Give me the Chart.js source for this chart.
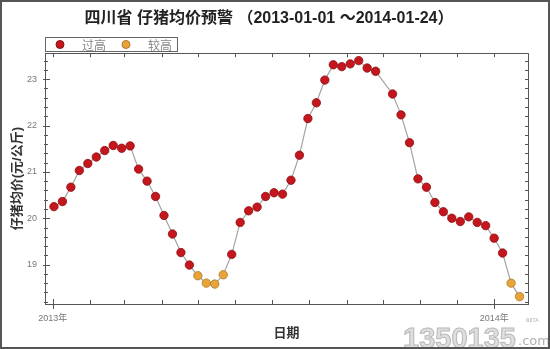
<!DOCTYPE html>
<html>
<head>
<meta charset="utf-8">
<script src="https://cdn.jsdelivr.net/npm/chart.js@4.4.0/dist/chart.umd.min.js"></script>
<style>
  html, body { margin: 0; padding: 0; background: #fff; }
  #wrap { width: 550px; height: 349px; }
</style>
</head>
<body>
<div id="wrap"><canvas id="chart" width="550" height="349"></canvas></div>
<script>
// 每周均价 (2013-10-02 当周无数据)
var dates = [
  '2013-01-02', '2013-01-09', '2013-01-16', '2013-01-23', '2013-01-30',
  '2013-02-06', '2013-02-13', '2013-02-20', '2013-02-27', '2013-03-06',
  '2013-03-13', '2013-03-20', '2013-03-27', '2013-04-03', '2013-04-10',
  '2013-04-17', '2013-04-24', '2013-05-01', '2013-05-08', '2013-05-15',
  '2013-05-22', '2013-05-29', '2013-06-05', '2013-06-12', '2013-06-19',
  '2013-06-26', '2013-07-03', '2013-07-10', '2013-07-17', '2013-07-24',
  '2013-07-31', '2013-08-07', '2013-08-14', '2013-08-21', '2013-08-28',
  '2013-09-04', '2013-09-11', '2013-09-18', '2013-09-25', '2013-10-09',
  '2013-10-16', '2013-10-23', '2013-10-30', '2013-11-06', '2013-11-13',
  '2013-11-20', '2013-11-27', '2013-12-04', '2013-12-11', '2013-12-18',
  '2013-12-25', '2014-01-01', '2014-01-08', '2014-01-15', '2014-01-22'
]
var prices = [
  20.25, 20.36, 20.67, 21.03, 21.18,
  21.32, 21.46, 21.57, 21.51, 21.56,
  21.06, 20.80, 20.47, 20.06, 19.66,
  19.26, 18.99, 18.76, 18.60, 18.58,
  18.78, 19.22, 19.91, 20.16, 20.24,
  20.47, 20.55, 20.52, 20.82, 21.36,
  22.15, 22.49, 22.98, 23.31, 23.27,
  23.33, 23.40, 23.24, 23.17, 22.68,
  22.23, 21.63, 20.85, 20.67, 20.34,
  20.14, 20.00, 19.93, 20.03, 19.91,
  19.84, 19.57, 19.25, 18.60, 18.31
]
// 0 = 过高, 1 = 较高
var levels = [
  0, 0, 0, 0, 0,  0, 0, 0, 0, 0,
  0, 0, 0, 0, 0,  0, 0, 1, 1, 1,
  1, 0, 0, 0, 0,  0, 0, 0, 0, 0,
  0, 0, 0, 0, 0,  0, 0, 0, 0, 0,
  0, 0, 0, 0, 0,  0, 0, 0, 0, 0,
  0, 0, 0, 1, 1
]
var levelNames = ['过高', '较高']
var levelColors = ['#c4161c', '#e8a33a']
var levelBorders = ['#8c1014', '#b07a22']

var monthTicks = [
  '2013-01-01', '2013-02-01', '2013-03-01', '2013-04-01', '2013-05-01', '2013-06-01', '2013-07-01',
  '2013-08-01', '2013-09-01', '2013-10-01', '2013-11-01', '2013-12-01', '2014-01-01'
]
var yearTicks = { '2013-01-01': '2013年', '2014-01-01': '2014年' }

var titleText = '四川省 仔猪均价预警 （2013-01-01 ～2014-01-24）'

function dayOf (s) {
  var p = s.split('-')
  return (Date.UTC(+p[0], +p[1] - 1, +p[2]) - Date.UTC(2013, 0, 1)) / 86400000
}

var linePoints = dates.map(function (d, i) { return { x: dayOf(d), y: prices[i] } })
function pointsOf (lv) {
  return linePoints.filter(function (p, i) { return levels[i] === lv })
}
var tickLabels = {}
Object.keys(yearTicks).forEach(function (k) { tickLabels[dayOf(k)] = yearTicks[k] })

var cjk = "'Liberation Sans', 'Noto Sans CJK SC', sans-serif"

// 边框、内向刻度、图例、水印
var decorations = {
  id: 'decorations',
  beforeDraw: function (chart) {
    var ctx = chart.ctx
    ctx.save()
    ctx.fillStyle = '#fff'
    ctx.fillRect(0, 0, chart.width, chart.height)
    ctx.restore()
  },
  afterDraw: function (chart) {
    var ctx = chart.ctx
    var a = chart.chartArea
    var xs = chart.scales.x
    var ys = chart.scales.y
    ctx.save()
    ctx.strokeStyle = '#555'
    ctx.lineWidth = 1
    // top / right frame
    ctx.beginPath()
    ctx.moveTo(a.left, Math.round(a.top) + 0.5)
    ctx.lineTo(a.right, Math.round(a.top) + 0.5)
    ctx.moveTo(Math.round(a.right) + 0.5, a.top)
    ctx.lineTo(Math.round(a.right) + 0.5, a.bottom)
    ctx.stroke()
    // y ticks
    ctx.beginPath()
    ys.ticks.forEach(function (t) {
      var y = Math.round(ys.getPixelForValue(t.value)) + 0.5
      var major = Math.abs(t.value - Math.round(t.value)) < 1e-6
      ctx.moveTo(a.left - (major ? 2 : 1), y)
      ctx.lineTo(a.left + (major ? 5 : 3), y)
      ctx.moveTo(a.right, y)
      ctx.lineTo(a.right - 3, y)
    })
    // x ticks
    xs.ticks.forEach(function (t) {
      var x = Math.round(xs.getPixelForValue(t.value)) + 0.5
      var major = tickLabels[t.value] !== undefined
      ctx.moveTo(x, a.bottom + (major ? 5 : 0))
      ctx.lineTo(x, a.bottom - (major ? 5 : 4))
      ctx.moveTo(x, a.top)
      ctx.lineTo(x, a.top + 4)
    })
    ctx.stroke()

    // legend box
    ctx.strokeStyle = '#666'
    ctx.strokeRect(45.5, 37.5, 132, 14)
    var lx = [60, 126]
    levelNames.forEach(function (name, i) {
      ctx.beginPath()
      ctx.arc(lx[i], 44.5, 4, 0, Math.PI * 2)
      ctx.fillStyle = levelColors[i]
      ctx.fill()
      ctx.strokeStyle = levelBorders[i]
      ctx.stroke()
      ctx.fillStyle = '#888'
      ctx.font = "12px 'Noto Sans CJK SC', sans-serif"
      ctx.textBaseline = 'middle'
      ctx.textAlign = 'left'
      ctx.fillText(name, lx[i] + 22, 45)
    })

    // watermark
    ctx.textAlign = 'left'
    ctx.textBaseline = 'alphabetic'
    ctx.font = "bold 29px 'Liberation Sans', sans-serif"
    ctx.fillStyle = '#dedede'
    ctx.strokeStyle = '#b8b8b8'
    ctx.lineWidth = 1
    ctx.fillText('1350135', 403, 348)
    ctx.strokeText('1350135', 403, 348)
    ctx.font = "13px 'DejaVu Sans', sans-serif"
    ctx.fillStyle = '#b0b0b0'
    ctx.fillText('.com', 518, 345)
    ctx.font = "5px 'DejaVu Sans', sans-serif"
    ctx.fillText('BETA', 526, 322)

    // outer border
    ctx.strokeStyle = '#555'
    ctx.lineWidth = 2
    ctx.strokeRect(1, 1, chart.width - 2, chart.height - 2)
    ctx.restore()
  }
}

new Chart(document.getElementById('chart'), {
  type: 'line',
  data: {
    datasets: [
      {
        label: 'line',
        data: linePoints,
        borderColor: '#a3a3a3',
        borderWidth: 1.2,
        pointRadius: 0,
        tension: 0,
        order: 3
      },
      {
        label: levelNames[0],
        data: pointsOf(0),
        showLine: false,
        pointRadius: 4.2,
        pointBackgroundColor: levelColors[0],
        pointBorderColor: levelBorders[0],
        pointBorderWidth: 0.8,
        order: 1
      },
      {
        label: levelNames[1],
        data: pointsOf(1),
        showLine: false,
        pointRadius: 4.2,
        pointBackgroundColor: levelColors[1],
        pointBorderColor: levelBorders[1],
        pointBorderWidth: 0.8,
        order: 2
      }
    ]
  },
  options: {
    responsive: false,
    animation: false,
    layout: { padding: { left: 10, right: 22, top: 0, bottom: 0 } },
    plugins: {
      legend: { display: false },
      tooltip: { enabled: false },
      title: {
        display: true,
        text: titleText,
        color: '#222',
        font: { family: cjk, size: 16, weight: 'bold' },
        padding: { top: 9, bottom: 25 }
      }
    },
    scales: {
      x: {
        type: 'linear',
        min: -6.4,
        max: 393,
        afterBuildTicks: function (s) {
          s.ticks = monthTicks.map(function (d) { return { value: dayOf(d) } })
        },
        afterFit: function (s) { s.height = 45 },
        grid: { display: false, drawTicks: false },
        border: { display: true, color: '#555' },
        ticks: {
          autoSkip: false,
          maxRotation: 0,
          padding: 9,
          color: '#777',
          font: { family: cjk, size: 9 },
          callback: function (v) { return tickLabels[v] || '' }
        },
        title: {
          display: true,
          text: '日期',
          color: '#333',
          font: { family: cjk, size: 13, weight: 'bold' },
          padding: { top: 0, bottom: 8 }
        }
      },
      y: {
        min: 18.15,
        max: 23.56,
        afterFit: function (s) { s.width = 35 },
        grid: { display: false, drawTicks: false },
        border: { display: true, color: '#555' },
        ticks: {
          stepSize: 0.2,
          includeBounds: false,
          autoSkip: false,
          padding: 8,
          color: '#777',
          font: { family: cjk, size: 9 },
          callback: function (v) {
            return Math.abs(v - Math.round(v)) < 1e-6 ? String(Math.round(v)) : ''
          }
        },
        title: {
          display: true,
          text: '仔猪均价(元/公斤)',
          color: '#333',
          font: { family: cjk, size: 13, weight: 'bold' },
          padding: { top: 0, bottom: 0 }
        }
      }
    }
  },
  plugins: [decorations]
})
</script>
</body>
</html>
